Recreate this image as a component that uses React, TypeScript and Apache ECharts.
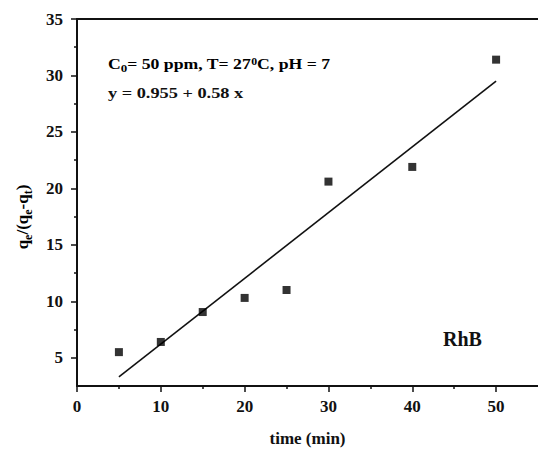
import React, { useEffect, useRef } from "react";
import * as echarts from "echarts";

// Data
const timeMin = [5, 10, 15, 20, 25, 30, 40, 50];
const ratioValues = [5.5, 6.4, 9.05, 10.3, 11.0, 20.6, 21.9, 31.4];
const fitX = [5, 50];
const fitY = [3.3, 29.5];

const xMajorTicks = [0, 10, 20, 30, 40, 50];
const xMinorTicks = [5, 15, 25, 35, 45];
const yMajorTicks = [5, 10, 15, 20, 25, 30, 35];
const yMinorTicks = [7.5, 12.5, 17.5, 22.5, 27.5, 32.5];

const annotationLine1 = "{a|C}{sub|0}{a|= 50 ppm, T= 27}{sup|0}{a|C, pH = 7}";
const annotationLine2 = "y = 0.955 + 0.58 x";
const seriesLabel = "RhB";
const xName = "time (min)";
const yName = "{a|q}{s|e}{a|/(q}{s|e}{a|-q}{s|t}{a|)}";

const FONT = "'Liberation Serif', 'Times New Roman', serif";
const INK = "#111";

export default function App() {
  const ref = useRef<HTMLDivElement>(null);
  useEffect(() => {
    if (!ref.current) return;
    const chart = echarts.init(ref.current, null, { renderer: "svg" });
    const X_MIN = 0, X_MAX = 55, Y_MIN = 2.5, Y_MAX = 35;
    const lineStyle = { color: INK, width: 2 };
    const labelStyle = { fontFamily: FONT, fontWeight: "bold" as const, fontSize: 17, color: INK };
    chart.setOption({
      animation: false,
      backgroundColor: "#fff",
      grid: { left: 77, top: 19, right: -8, bottom: 65 },
      xAxis: [
        {
          type: "value", min: X_MIN, max: X_MAX, position: "bottom",
          axisLine: { onZero: false, lineStyle },
          axisTick: { length: 6, lineStyle: { color: INK, width: 1.5 }, customValues: xMajorTicks },
          axisLabel: { ...labelStyle, margin: 12, customValues: xMajorTicks },
          splitLine: { show: false },
          name: xName, nameLocation: "middle", nameGap: 44,
          nameTextStyle: { fontFamily: FONT, fontWeight: "bold", fontSize: 17, color: INK },
        },
        {
          type: "value", min: X_MIN, max: X_MAX, position: "bottom",
          axisLine: { show: false, onZero: false },
          axisTick: { length: 3, lineStyle: { color: INK, width: 1.5 }, customValues: xMinorTicks },
          axisLabel: { show: false },
          splitLine: { show: false },
        },
        {
          type: "value", min: X_MIN, max: X_MAX, position: "top",
          axisLine: { onZero: false, lineStyle },
          axisTick: { show: false },
          axisLabel: { show: false },
          splitLine: { show: false },
        },
      ],
      yAxis: [
        {
          type: "value", min: Y_MIN, max: Y_MAX, position: "left",
          axisLine: { show: true, onZero: false, lineStyle },
          axisTick: { show: true, length: 6, lineStyle: { color: INK, width: 1.5 }, customValues: yMajorTicks },
          axisLabel: { ...labelStyle, margin: 14, customValues: yMajorTicks },
          splitLine: { show: false },
        },
        {
          type: "value", min: Y_MIN, max: Y_MAX, position: "left",
          axisLine: { show: false, onZero: false },
          axisTick: { show: true, length: 3, lineStyle: { color: INK, width: 1.5 }, customValues: yMinorTicks },
          axisLabel: { show: false },
          splitLine: { show: false },
        },
      ],
      series: [
        {
          type: "scatter",
          xAxisIndex: 0, yAxisIndex: 0,
          symbol: "rect", symbolSize: 8,
          itemStyle: { color: "#000" },
          data: timeMin.map((t, i) => [t, ratioValues[i]]),
          z: 3,
        },
        {
          type: "line",
          xAxisIndex: 0, yAxisIndex: 0,
          showSymbol: false, symbol: "none",
          lineStyle: { color: "#111", width: 1.6 },
          data: fitX.map((x, i) => [x, fitY[i]]),
          z: 2,
        },
      ],
      graphic: [
        {
          type: "text", left: 108, top: 56, scaleX: 1.18,
          style: {
            text: annotationLine1,
            rich: {
              a: { fontFamily: FONT, fontWeight: "bold", fontSize: 15, color: INK, lineHeight: 18, verticalAlign: "top" },
              sub: { fontFamily: FONT, fontWeight: "bold", fontSize: 11, color: INK, lineHeight: 6, verticalAlign: "bottom" },
              sup: { fontFamily: FONT, fontWeight: "bold", fontSize: 10, color: INK, lineHeight: 6, verticalAlign: "top" },
            },
          },
        },
        {
          type: "text", left: 108, top: 86, scaleX: 1.22,
          style: { text: annotationLine2, fontFamily: FONT, fontWeight: "bold", fontSize: 15, fill: INK },
        },
        {
          type: "text", left: 443, top: 329,
          style: { text: seriesLabel, fontFamily: FONT, fontWeight: "bold", fontSize: 20, fill: INK },
        },
        {
          type: "text", x: 24, y: 217, rotation: Math.PI / 2,
          style: {
            text: yName, align: "center", verticalAlign: "middle",
            rich: {
              a: { fontFamily: FONT, fontWeight: "bold", fontSize: 17, color: INK, lineHeight: 20, verticalAlign: "top" },
              s: { fontFamily: FONT, fontWeight: "bold", fontSize: 12, color: INK, lineHeight: 6, verticalAlign: "bottom" },
            },
          },
        },
      ],
    });
    return () => chart.dispose();
  }, []);
  return (
    <div
      ref={ref}
      style={{ position: "fixed", left: 0, top: 0, width: 538, height: 452, overflow: "hidden" }}
    />
  );
}
